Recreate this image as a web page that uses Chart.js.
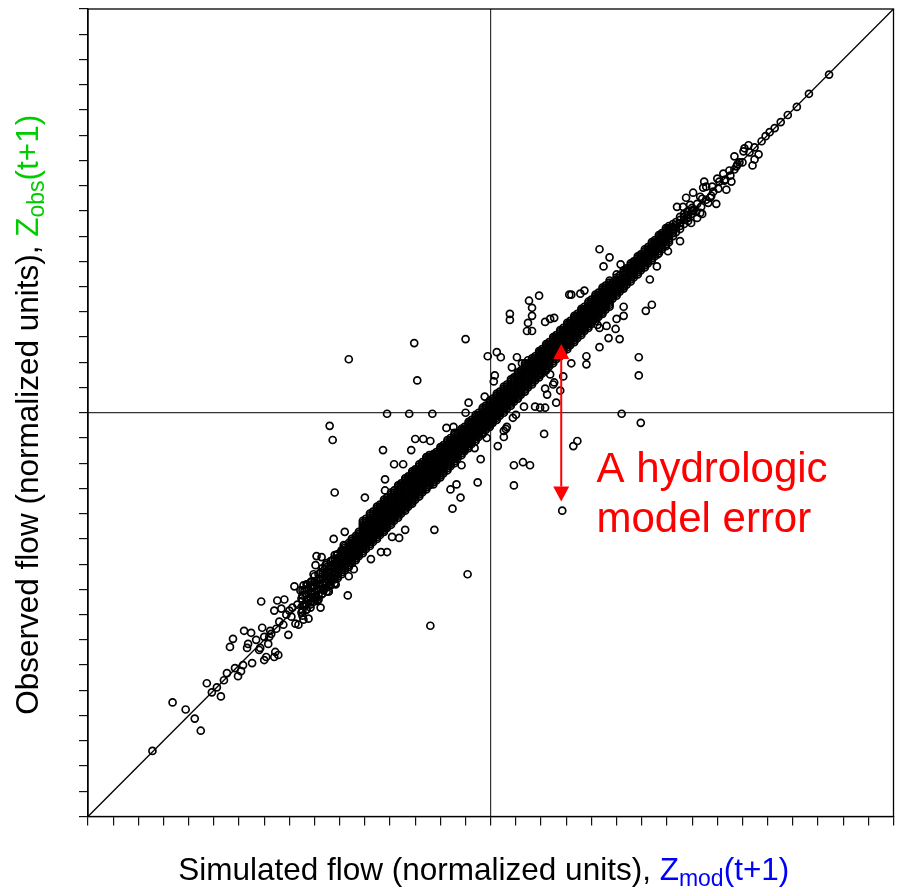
<!DOCTYPE html>
<html>
<head>
<meta charset="utf-8">
<title>Simulated vs observed flow</title>
<script src="https://cdn.jsdelivr.net/npm/chart.js@4.4.0/dist/chart.umd.min.js"></script>
<style>
  html, body { margin: 0; padding: 0; background: #fff; }
  #wrap { width: 901px; height: 890px; }
</style>
</head>
<body>
<div id="wrap"><canvas id="scatter" width="901" height="890"></canvas></div>
<script>
// Axis range in normalized units (x100), ticks only, no labels
const axisMin = -400;
const axisMax = 400;
const tickStep = 25;

// [simulated, observed] pairs
const lowerTail = [
  [-336,-335],[-316,-287],[-303,-294],[-294,-303],[-288,-315],[-282,-268],[-277,-277],[-272,-272],
  [-268,-281],[-265,-265],[-262,-258],[-254,-253],[-251,-261],[-248,-256],[-246,-250],[-237,-248],
  [-259,-232],[-256,-224],[-245,-216],[-238,-218],[-242,-233],[-241,-229],[-233,-225],[-230,-235],
  [-229,-233],[-227,-213],[-225,-245],[-223,-242],[-221,-229],[-220,-222],[-218,-219],[-215,-242],
  [-214,-237],[-211,-240],[-213,-214],[-228,-187],[-201,-220],[-215,-196],[-212,-186],[-205,-185],
  [-208,-194],[-203,-200],[-198,-202],[-194,-209],[-191,-210],[-186,-205],[-181,-204],[-195,-172],
  [-189,-176],[-186,-171],[-178,-167],[-169,-193],[-173,-184],[-166,-176],[-161,-177],[-154,-170],
  [-142,-181],[-173,-142],[-168,-143],[-174,-151],[-156,-125],[-146,-131],[-145,-118],[-141,-162],
  [-136,-155],[-225,-222],[-219,-216],[-210,-207],[-206,-210],[-200,-196],[-197,-193],[-192,-190],
  [-188,-198],[-188,-184],[-185,-176],[-184,-191],[-182,-170],[-181,-186],[-183,-195],[-178,-180],
  [-177,-171],[-179,-190],[-175,-168],[-174,-183],[-176,-160],[-171,-175],[-170,-165],[-172,-186],
  [-169,-158],[-167,-162],[-166,-174],[-168,-180],[-165,-155],[-163,-168],[-162,-158],[-164,-151],
  [-161,-177],[-159,-163],[-158,-153],[-160,-170],[-157,-146],[-155,-158],[-154,-149],[-156,-165],
  [-153,-141],[-151,-155],[-150,-145],[-152,-162],[-149,-138]
];

// dense band: each row is a simulated value followed by the observed values plotted at it
const denseBand = [
  [-187,-201,-196,-191,-186,-181,-176],
  [-183,-195,-190,-185,-180,-175,-170],
  [-179,-193,-188,-183,-178,-173,-168],
  [-175,-187,-182,-177,-172,-167,-162],
  [-171,-185,-180,-175,-170,-165,-160],
  [-167,-179,-174,-169,-164,-159,-154],
  [-163,-177,-173,-169,-165,-161,-157,-153,-149],
  [-159,-171,-167,-163,-159,-155,-151,-147],
  [-155,-169,-165,-161,-157,-153,-149,-145,-141],
  [-152,-164,-160,-156,-152,-148,-144,-140],
  [-148,-160,-158,-156,-154,-152,-150,-148,-146,-144,-142,-140,-138,-136],
  [-145,-156,-154,-152,-150,-148,-146,-144,-142,-140,-138,-136,-134,-132],
  [-141,-153,-151,-149,-147,-145,-143,-141,-139,-137,-135,-133,-131,-129],
  [-138,-149,-147,-145,-143,-141,-139,-137,-135,-133,-131,-129,-127,-125],
  [-134,-146,-144,-142,-140,-138,-136,-134,-132,-130,-128,-126,-124,-122],
  [-131,-142,-140,-138,-136,-134,-132,-130,-128,-126,-124,-122,-120,-118],
  [-127,-139,-137,-135,-133,-131,-129,-127,-125,-123,-121,-119,-117,-115,-113,-111,-109,-107],
  [-124,-135,-133,-131,-129,-127,-125,-123,-121,-119,-117,-115,-113,-111,-109,-107,-105],
  [-120,-132,-130,-128,-126,-124,-122,-120,-118,-116,-114,-112,-110,-108,-106,-104,-102,-100],
  [-117,-128,-126,-124,-122,-120,-118,-116,-114,-112,-110,-108,-106,-104,-102,-100,-98],
  [-113,-125,-123,-121,-119,-117,-115,-113,-111,-109,-107,-105,-103,-101,-99,-97,-95,-93],
  [-110,-121,-119,-117,-115,-113,-111,-109,-107,-105,-103,-101,-99,-97,-95,-93,-91],
  [-106,-118,-116,-114,-112,-110,-108,-106,-104,-102,-100,-98,-96,-94,-92,-90,-88,-86],
  [-103,-114,-112,-110,-108,-106,-104,-102,-100,-98,-96,-94,-92,-90,-88,-86,-84],
  [-99,-111,-109,-107,-105,-103,-101,-99,-97,-95,-93,-91,-89,-87,-85,-83,-81,-79],
  [-96,-107,-105,-103,-101,-99,-97,-95,-93,-91,-89,-87,-85,-83,-81,-79,-77],
  [-92,-104,-102,-100,-98,-96,-94,-92,-90,-88,-86,-84,-82,-80,-78,-76,-74,-72],
  [-89,-100,-98,-96,-94,-92,-90,-88,-86,-84,-82,-80,-78,-76,-74,-72,-70],
  [-85,-97,-95,-93,-91,-89,-87,-85,-83,-81,-79,-77,-75,-73,-71,-69,-67,-65],
  [-82,-93,-91,-89,-87,-85,-83,-81,-79,-77,-75,-73,-71,-69,-67,-65,-63],
  [-78,-90,-88,-86,-84,-82,-80,-78,-76,-74,-72,-70,-68,-66,-64,-62,-60,-58],
  [-75,-86,-84,-82,-80,-78,-76,-74,-72,-70,-68,-66,-64,-62,-60,-58,-56],
  [-71,-83,-81,-79,-77,-75,-73,-71,-69,-67,-65,-63,-61,-59,-57,-55,-53,-51],
  [-68,-79,-77,-75,-73,-71,-69,-67,-65,-63,-61,-59,-57,-55,-53,-51,-49],
  [-64,-76,-74,-72,-70,-68,-66,-64,-62,-60,-58,-56,-54,-52,-50,-48,-46,-44],
  [-61,-72,-70,-68,-66,-64,-62,-60,-58,-56,-54,-52,-50,-48,-46,-44,-42],
  [-57,-71,-69,-67,-65,-63,-61,-59,-57,-55,-53,-51,-49,-47,-45,-43,-41],
  [-54,-67,-65,-63,-61,-59,-57,-55,-53,-51,-49,-47,-45,-43,-41,-39],
  [-50,-64,-62,-60,-58,-56,-54,-52,-50,-48,-46,-44,-42,-40,-38,-36,-34],
  [-47,-60,-58,-56,-54,-52,-50,-48,-46,-44,-42,-40,-38,-36,-34,-32],
  [-43,-57,-55,-53,-51,-49,-47,-45,-43,-41,-39,-37,-35,-33,-31,-29,-27],
  [-40,-53,-51,-49,-47,-45,-43,-41,-39,-37,-35,-33,-31,-29,-27,-25],
  [-36,-50,-48,-46,-44,-42,-40,-38,-36,-34,-32,-30,-28,-26,-24,-22,-20],
  [-33,-45,-43,-41,-39,-37,-35,-33,-31,-29,-27,-25,-23,-21],
  [-29,-42,-40,-38,-36,-34,-32,-30,-28,-26,-24,-22,-20,-18,-16],
  [-26,-38,-36,-34,-32,-30,-28,-26,-24,-22,-20,-18,-16,-14],
  [-22,-35,-33,-31,-29,-27,-25,-23,-21,-19,-17,-15,-13,-11,-9],
  [-19,-31,-29,-27,-25,-23,-21,-19,-17,-15,-13,-11,-9,-7],
  [-15,-28,-26,-24,-22,-20,-18,-16,-14,-12,-10,-8,-6,-4,-2],
  [-12,-24,-22,-20,-18,-16,-14,-12,-10,-8,-6,-4,-2,0],
  [-8,-21,-19,-17,-15,-13,-11,-9,-7,-5,-3,-1,1,3,5],
  [-5,-17,-15,-13,-11,-9,-7,-5,-3,-1,1,3,5,7],
  [-1,-14,-12,-10,-8,-6,-4,-2,0,2,4,6,8,10,12],
  [2,-10,-8,-6,-4,-2,0,2,4,6,8,10,12,14],
  [6,-7,-5,-3,-1,1,3,5,7,9,11,13,15,17,19],
  [9,-3,-1,1,3,5,7,9,11,13,15,17,19,21],
  [13,0,2,4,6,8,10,12,14,16,18,20,22,24,26],
  [16,4,6,8,10,12,14,16,18,20,22,24,26,28],
  [20,7,9,11,13,15,17,19,21,23,25,27,29,31,33],
  [23,11,13,15,17,19,21,23,25,27,29,31,33,35],
  [27,14,16,18,20,22,24,26,28,30,32,34,36,38,40],
  [30,18,20,22,24,26,28,30,32,34,36,38,40,42],
  [34,21,23,25,27,29,31,33,35,37,39,41,43,45,47],
  [37,25,27,29,31,33,35,37,39,41,43,45,47,49],
  [41,28,30,32,34,36,38,40,42,44,46,48,50,52,54],
  [44,32,34,36,38,40,42,44,46,48,50,52,54,56],
  [48,35,37,39,41,43,45,47,49,51,53,55,57,59,61],
  [51,39,41,43,45,47,49,51,53,55,57,59,61,63],
  [55,42,44,46,48,50,52,54,56,58,60,62,64,66,68],
  [58,46,48,50,52,54,56,58,60,62,64,66,68,70],
  [62,49,51,53,55,57,59,61,63,65,67,69,71,73,75],
  [65,53,55,57,59,61,63,65,67,69,71,73,75,77],
  [69,56,58,60,62,64,66,68,70,72,74,76,78,80,82],
  [72,60,62,64,66,68,70,72,74,76,78,80,82,84],
  [76,63,65,67,69,71,73,75,77,79,81,83,85,87,89],
  [79,67,69,71,73,75,77,79,81,83,85,87,89,91],
  [83,70,72,74,76,78,80,82,84,86,88,90,92,94,96],
  [86,74,76,78,80,82,84,86,88,90,92,94,96,98],
  [90,77,79,81,83,85,87,89,91,93,95,97,99,101,103],
  [93,81,83,85,87,89,91,93,95,97,99,101,103,105],
  [97,84,86,88,90,92,94,96,98,100,102,104,106,108,110],
  [100,88,90,92,94,96,98,100,102,104,106,108,110,112],
  [104,91,93,95,97,99,101,103,105,107,109,111,113,115,117],
  [107,95,97,99,101,103,105,107,109,111,113,115,117,119],
  [111,98,100,102,104,106,108,110,112,114,116,118,120,122,124],
  [114,102,104,106,108,110,112,114,116,118,120,122,124,126],
  [118,105,107,109,111,113,115,117,119,121,123,125,127,129,131],
  [121,113,115,117,119,121,123,125,127,129],
  [125,116,118,120,122,124,126,128,130,132,134],
  [128,120,122,124,126,128,130,132,134,136],
  [132,123,125,127,129,131,133,135,137,139,141],
  [135,127,129,131,133,135,137,139,141,143],
  [139,130,132,134,136,138,140,142,144,146,148],
  [142,134,136,138,140,142,144,146,148,150],
  [146,137,139,141,143,145,147,149,151,153,155],
  [149,141,143,145,147,149,151,153,155,157],
  [153,144,146,148,150,152,154,156,158,160,162],
  [156,148,150,152,154,156,158,160,162,164],
  [160,151,153,155,157,159,161,163,165,167,169],
  [163,155,157,159,161,163,165,167,169,171],
  [167,158,160,162,164,166,168,170,172,174,176],
  [170,162,164,166,168,170,172,174,176,178],
  [174,165,167,169,171,173,175,177,179,181,183],
  [177,169,171,173,175,177,179,181,183,185],
  [181,175,178,181,184,187],
  [184,179,183,186,189],
  [188,182,185,188,191,194],
  [192,187,191,194,197],
  [196,190,193,196,199],
  [200,197,200,203]
];

const upperTail = [
  [336,335],[316,316],[304,303],[295,295],[288,288],[282,282],[277,278],[273,274],[269,269],
  [256,265],[252,262],[251,259],[266,256],[262,251],[260,245],[242,254],[247,248],[244,244],
  [242,241],[237,240],[231,237],[225,232],[233,231],[239,229],[234,221],[212,229],[214,224],
  [211,223],[208,214],[201,218],[221,219],[218,213],[224,207],[216,208],[194,213],[185,204],
  [191,204],[198,206],[201,201],[208,198],[210,197],[205,193],[199,188],[195,199],[188,170],
  [204,199],[205,207],[209,204],[210,212],[214,211],[219,215],[220,224],[226,222],[227,229],
  [232,230],[238,235],[245,246],[250,248],[257,258],[262,263]
];

const offBand = [
  [-103,-1],[-81,-1],[-58,-1],[-25,0],[-160,-13],[-157,-27],[-155,-79],[-107,-37],[-125,-84],
  [-105,-66],[-96,-51],[-87,-51],[-79,-37],[-75,-26],[-67,-26],[-60,-28],[-44,-15],[-37,-14],
  [-22,10],[-56,-116],[-38,-95],[-30,-84],[-40,-76],[-34,-71],[-13,-69],[-29,-52],[-10,-46],
  [7,-33],[-23,-160],[-60,-211],[23,-52],[23,-72],[13,-24],[15,-16],[-4,-25],[-16,-35],
  [-98,-123],[-91,-124],[-85,-116],[-103,-138],[-109,-138],[-119,-145],[-105,-77],
  [-141,53],[-76,69],[-25,73],[-73,32],[-3,56],[6,60],[10,55],[4,37],[3,31],[-6,16],
  [19,98],[19,92],[38,111],[48,116],[41,104],[41,96],[37,89],[36,81],[41,81],[54,90],[59,93],
  [63,94],[78,117],[26,55],[21,45],[37,52],[49,38],[59,38],[63,30],[54,24],[56,18],[65,10],
  [44,6],[49,5],[54,5],[33,6],[25,-2],[22,-5],[16,-14],[13,-18],[53,-21],[32,-49],[39,-52],
  [82,-33],[86,-28],[71,-97],[31,49],[34,49],[38,41],
  [108,162],[118,154],[112,145],[129,147],[125,137],[158,132],[165,145],[166,157],[176,160],
  [160,107],[154,101],[80,117],[89,118],[93,121],[108,65],[117,74],[128,73],[124,83],[125,93],
  [132,96],[132,105],[115,86],[106,87],[108,84],[147,55],[147,37],[95,56],[95,48],[80,49],
  [72,36],[69,22],[62,28],[130,-1],[149,-10]
];

// 1:1 line
const identityLine = [[axisMin, axisMin], [axisMax, axisMax]];

// annotation: vertical error between the outlier and the 1:1 line
const errorArrow = { x: 70, from: -88, to: 68 };
const errorLabel = { x: 105, y: -69, lines: ['A hydrologic', 'model error'] };

const xTitle = [
  { text: 'Simulated flow (normalized units), ', color: '#000000' },
  { text: 'Z', color: '#0000ff' },
  { text: 'mod', color: '#0000ff', sub: true },
  { text: '(t+1)', color: '#0000ff' }
];
const yTitle = [
  { text: 'Observed flow (normalized units), ', color: '#000000' },
  { text: 'Z', color: '#00cc00' },
  { text: 'obs', color: '#00cc00', sub: true },
  { text: '(t+1)', color: '#00cc00' }
];

const FONT = '"Liberation Sans", Arial, Helvetica, sans-serif';

const toXY = pairs => pairs.map(p => ({ x: p[0], y: p[1] }));
const bandPairs = [];
denseBand.forEach(row => {
  row.slice(1).forEach(v => bandPairs.push([row[0], v]));
});
const observations = toXY([].concat(lowerTail, bandPairs, upperTail, offBand));

function drawRich(ctx, parts, size) {
  const subSize = Math.round(size * 0.72);
  let total = 0;
  parts.forEach(p => {
    ctx.font = (p.sub ? subSize : size) + 'px ' + FONT;
    p.w = ctx.measureText(p.text).width;
    total += p.w;
  });
  let x = -total / 2;
  ctx.textBaseline = 'alphabetic';
  ctx.textAlign = 'left';
  parts.forEach(p => {
    ctx.font = (p.sub ? subSize : size) + 'px ' + FONT;
    ctx.fillStyle = p.color;
    ctx.fillText(p.text, x, p.sub ? size * 0.2 : 0);
    x += p.w;
  });
}

const framePlugin = {
  id: 'frame',
  afterDraw(chart) {
    const { ctx, chartArea: a } = chart;
    ctx.save();
    ctx.strokeStyle = '#000';
    ctx.lineWidth = 1.3;
    ctx.strokeRect(a.left, a.top, a.right - a.left, a.bottom - a.top);

    // axis titles with coloured, subscripted symbols
    ctx.save();
    ctx.translate((a.left + a.right) / 2 - 7, a.bottom + 63);
    drawRich(ctx, xTitle, 31.5);
    ctx.restore();
    ctx.save();
    ctx.translate(a.left - 50, (a.top + a.bottom) / 2 + 2);
    ctx.rotate(-Math.PI / 2);
    drawRich(ctx, yTitle, 31.5);
    ctx.restore();
    ctx.restore();
  }
};

const errorPlugin = {
  id: 'errorArrow',
  afterDatasetsDraw(chart) {
    const { ctx } = chart;
    const xs = chart.scales.x, ys = chart.scales.y;
    const ax = xs.getPixelForValue(errorArrow.x);
    const top = ys.getPixelForValue(errorArrow.to);
    const bottom = ys.getPixelForValue(errorArrow.from);
    const head = 15, half = 8;
    ctx.save();
    ctx.strokeStyle = '#ff0000';
    ctx.fillStyle = '#ff0000';
    ctx.lineWidth = 2;
    ctx.beginPath();
    ctx.moveTo(ax, top + head);
    ctx.lineTo(ax, bottom - head);
    ctx.stroke();
    ctx.beginPath();
    ctx.moveTo(ax, top);
    ctx.lineTo(ax - half, top + head);
    ctx.lineTo(ax + half, top + head);
    ctx.closePath();
    ctx.fill();
    ctx.beginPath();
    ctx.moveTo(ax, bottom);
    ctx.lineTo(ax - half, bottom - head);
    ctx.lineTo(ax + half, bottom - head);
    ctx.closePath();
    ctx.fill();

    ctx.font = '42px ' + FONT;
    ctx.textAlign = 'left';
    ctx.textBaseline = 'alphabetic';
    const tx = xs.getPixelForValue(errorLabel.x);
    const ty = ys.getPixelForValue(errorLabel.y);
    errorLabel.lines.forEach((line, i) => ctx.fillText(line, tx, ty + i * 50));
    ctx.restore();
  }
};

const centreGrid = c => (c.tick && c.tick.value === 0 ? '#333333' : 'rgba(0,0,0,0)');

const ctx = document.getElementById('scatter').getContext('2d');
new Chart(ctx, {
  type: 'scatter',
  data: {
    datasets: [
      {
        label: 'Observations',
        data: observations,
        pointStyle: 'circle',
        pointRadius: 3.5,
        borderWidth: 1.7,
        borderColor: '#000000',
        backgroundColor: 'rgba(0,0,0,0)',
        order: 1
      },
      {
        label: '1:1',
        data: toXY(identityLine),
        showLine: true,
        borderColor: '#000000',
        borderWidth: 1.3,
        pointRadius: 0,
        fill: false,
        order: 2
      }
    ]
  },
  options: {
    responsive: false,
    animation: false,
    devicePixelRatio: 1,
    layout: { padding: { left: 79, right: 7.5, top: 9, bottom: 64.5 } },
    plugins: {
      legend: { display: false },
      tooltip: { enabled: false }
    },
    scales: {
      x: {
        type: 'linear',
        min: axisMin,
        max: axisMax,
        ticks: { display: false, stepSize: tickStep },
        grid: { color: centreGrid, lineWidth: 1.2, tickLength: 9, tickColor: '#111111', tickWidth: 1.2 },
        border: { display: true, color: '#000000', width: 1.3 }
      },
      y: {
        type: 'linear',
        min: axisMin,
        max: axisMax,
        ticks: { display: false, stepSize: tickStep },
        grid: { color: centreGrid, lineWidth: 1.2, tickLength: 9, tickColor: '#111111', tickWidth: 1.2 },
        border: { display: true, color: '#000000', width: 1.3 }
      }
    }
  },
  plugins: [framePlugin, errorPlugin]
});
</script>
</body>
</html>
